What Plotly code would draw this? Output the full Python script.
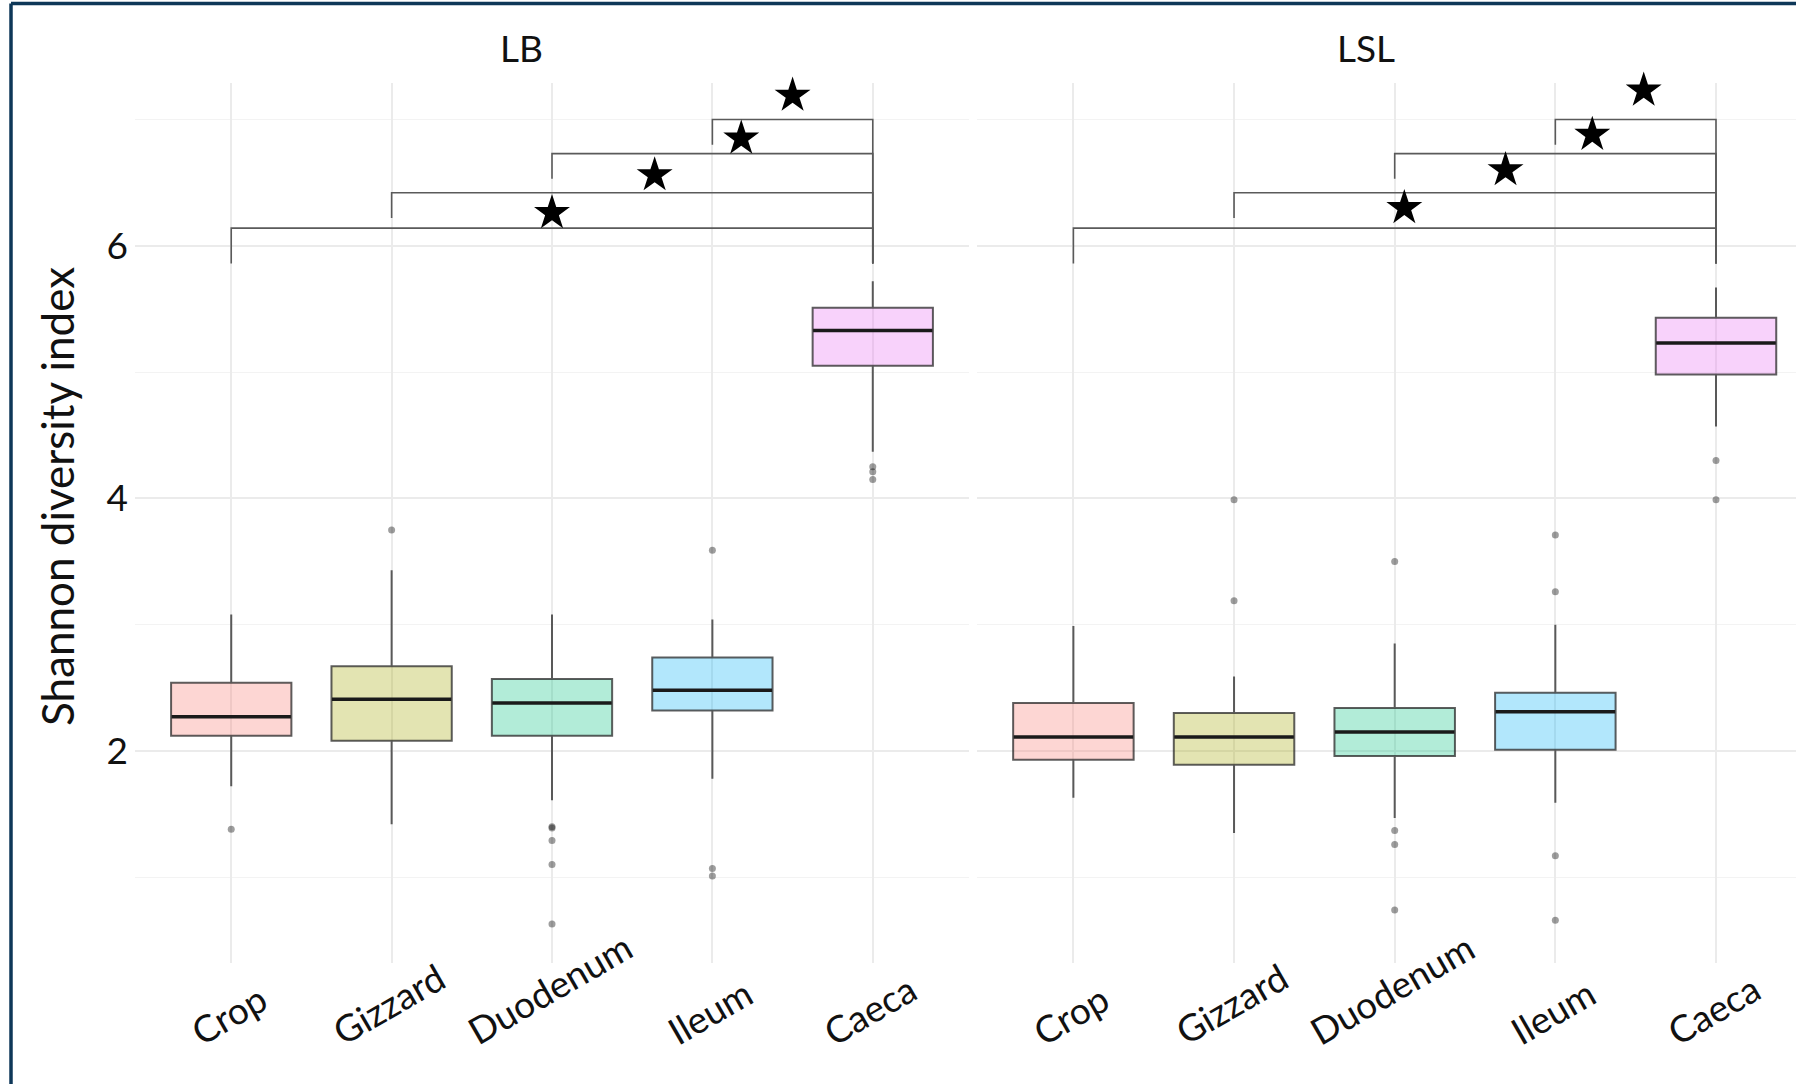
import plotly.graph_objects as go

# ---------------- data ----------------
categories = ["Crop", "Gizzard", "Duodenum", "Ileum", "Caeca"]
panels = ["LB", "LSL"]
colors = ["#F8766D", "#A3A500", "#00BF7D", "#00B0F6", "#E76BF3"]

lb_lower = [1.72, 1.42, 1.61, 1.78, 4.37]
lb_q1 = [2.12, 2.08, 2.12, 2.32, 5.05]
lb_median = [2.27, 2.41, 2.38, 2.48, 5.33]
lb_q3 = [2.54, 2.67, 2.57, 2.74, 5.51]
lb_upper = [3.08, 3.43, 3.08, 3.04, 5.72]
lb_out_cat = [0, 1, 2, 2, 2, 2, 2, 3, 3, 3, 4, 4, 4]
lb_out_val = [1.38, 3.75, 1.40, 1.39, 1.29, 1.10, 0.63, 3.59, 1.07, 1.01, 4.25, 4.21, 4.15]

lsl_lower = [1.63, 1.35, 1.47, 1.59, 4.57]
lsl_q1 = [1.93, 1.89, 1.96, 2.01, 4.98]
lsl_median = [2.11, 2.11, 2.15, 2.31, 5.23]
lsl_q3 = [2.38, 2.30, 2.34, 2.46, 5.43]
lsl_upper = [2.99, 2.59, 2.85, 3.00, 5.67]
lsl_out_cat = [1, 1, 2, 2, 2, 2, 3, 3, 3, 3, 4, 4]
lsl_out_val = [3.99, 3.19, 3.50, 1.37, 1.26, 0.74, 3.71, 3.26, 1.17, 0.66, 4.30, 3.99]

# significance brackets (group indices, bracket height, tips)
bracket_from = [0, 1, 2, 3]
bracket_to = [4, 4, 4, 4]
bracket_y = [6.14, 6.42, 6.73, 7.00]
bracket_left_tip = [5.86, 6.22, 6.53, 6.80]
bracket_right_tip = [5.86, 5.86, 5.86, 5.86]

lb_star_x = [2.00, 2.64, 3.18, 3.50]
lb_star_y = [6.26, 6.56, 6.85, 7.19]
lsl_star_x = [2.06, 2.69, 3.23, 3.55]
lsl_star_y = [6.30, 6.60, 6.88, 7.23]

y_ticks = [2, 4, 6]
y_minor = [1, 3, 5, 7]

# ---------------- figure ----------------
W, H = 1796, 1084
FONT = "Lato"
fig = go.Figure()


def rgba(hexcol, a):
    h = hexcol.lstrip("#")
    r, g, b = int(h[0:2], 16), int(h[2:4], 16), int(h[4:6], 16)
    return f"rgba({r},{g},{b},{a})"


panel_data = [
    (lb_lower, lb_q1, lb_median, lb_q3, lb_upper, lb_out_cat, lb_out_val, lb_star_x, lb_star_y),
    (lsl_lower, lsl_q1, lsl_median, lsl_q3, lsl_upper, lsl_out_cat, lsl_out_val, lsl_star_x, lsl_star_y),
]

for p, (lo, q1, med, q3, up, oc, ov, sx, sy) in enumerate(panel_data):
    xa = "x" if p == 0 else "x2"
    ya = "y" if p == 0 else "y2"
    # outliers
    fig.add_trace(go.Scatter(
        x=oc, y=ov, mode="markers", xaxis=xa, yaxis=ya,
        marker=dict(size=7, color="rgba(0,0,0,0.38)", line=dict(width=0)),
        showlegend=False, hoverinfo="skip"))
    for i, cat in enumerate(categories):
        fig.add_trace(go.Box(
            x=[i], q1=[q1[i]], median=[med[i]], q3=[q3[i]],
            lowerfence=[lo[i]], upperfence=[up[i]],
            width=0.75, whiskerwidth=0, boxpoints=False,
            fillcolor=rgba(colors[i], 0.3),
            line=dict(color="rgba(40,40,40,0.75)", width=2),
            xaxis=xa, yaxis=ya, showlegend=False, name=cat))
        fig.add_trace(go.Scatter(
            x=[i - 0.372, i + 0.372], y=[med[i], med[i]], mode="lines",
            line=dict(color="#1a1a1a", width=3.5), xaxis=xa, yaxis=ya,
            showlegend=False, hoverinfo="skip"))
    # brackets
    for k in range(len(bracket_from)):
        a, b = bracket_from[k], bracket_to[k]
        fig.add_trace(go.Scatter(
            x=[a, a, b, b],
            y=[bracket_left_tip[k], bracket_y[k], bracket_y[k], bracket_right_tip[k]],
            mode="lines", line=dict(color="#5a5a5a", width=1.6),
            xaxis=xa, yaxis=ya, showlegend=False, hoverinfo="skip"))
    fig.add_trace(go.Scatter(
        x=sx, y=sy, mode="markers", xaxis=xa, yaxis=ya, cliponaxis=False,
        marker=dict(symbol="star", size=27, color="black", line=dict(width=0)),
        showlegend=False, hoverinfo="skip"))

# axes geometry
x1_dom = [135 / W, 969 / W]
x2_dom = [977 / W, 1.0]
y_dom = [1 - 963 / H, 1 - 83 / H]
y_rng = [0.321, 7.289]

grid_major = "#EBEBEB"
grid_minor = "#F3F3F3"

common_x = dict(showgrid=True, gridcolor=grid_major, gridwidth=1.5, zeroline=False,
                showline=False, ticks="", tickvals=list(range(5)), showticklabels=False,
                anchor="y")
fig.update_layout(
    xaxis=dict(domain=x1_dom, range=[-0.6, 4.6], **common_x),
    xaxis2=dict(domain=x2_dom, range=[-0.6, 4.498], **{**common_x, "anchor": "y2"}),
    yaxis=dict(domain=y_dom, range=y_rng, tickvals=y_ticks, showgrid=True,
               gridcolor=grid_major, gridwidth=1.5, zeroline=False, showline=False,
               ticks="", ticklabelstandoff=6,
               tickfont=dict(family=FONT, size=37, color="#111"),
               minor=dict(tickvals=y_minor, showgrid=True, gridcolor=grid_minor, gridwidth=1.2),
               anchor="x"),
    yaxis2=dict(domain=y_dom, range=y_rng, tickvals=y_ticks, showgrid=True,
                gridcolor=grid_major, gridwidth=1.5, zeroline=False, showline=False,
                ticks="", showticklabels=False,
                minor=dict(tickvals=y_minor, showgrid=True, gridcolor=grid_minor, gridwidth=1.2),
                anchor="x2", matches="y"),
    width=W, height=H,
    margin=dict(l=0, r=0, t=0, b=0),
    paper_bgcolor="white", plot_bgcolor="white",
    showlegend=False,
)

annotations = []
# facet strip titles
strip_x = [521 / W, 1366 / W]
for p, name in enumerate(panels):
    annotations.append(dict(text=name, x=strip_x[p], y=1 - 48 / H, xref="paper", yref="paper",
                            xanchor="center", yanchor="middle", showarrow=False,
                            font=dict(family=FONT, size=37, color="#111")))
# rotated category labels
for p in range(2):
    xr = "x" if p == 0 else "x2"
    for i, cat in enumerate(categories):
        annotations.append(dict(text=cat, x=i, y=1 - 1056 / H, xref=xr, yref="paper",
                                xanchor="center", yanchor="bottom", textangle=-30, xshift=-3,
                                showarrow=False, font=dict(family=FONT, size=37, color="#111")))
# y axis title
annotations.append(dict(text="Shannon diversity index", x=57 / W, y=1 - 497 / H,
                        xref="paper", yref="paper", xanchor="center", yanchor="middle",
                        textangle=-90, showarrow=False,
                        font=dict(family=FONT, size=44, color="#111")))
fig.update_layout(annotations=annotations)

# outer frame (left and top edges visible)
fig.add_shape(type="line", xref="paper", yref="paper", x0=11 / W, x1=11 / W,
              y0=0, y1=1 - 3.5 / H, line=dict(color="#0E3758", width=3.5))
fig.add_shape(type="line", xref="paper", yref="paper", x0=11 / W, x1=1,
              y0=1 - 3.5 / H, y1=1 - 3.5 / H, line=dict(color="#0E3758", width=3.5))

fig.write_html("out.html", config={"displayModeBar": False},
               post_script="document.body.style.margin='0px';document.body.style.overflow='hidden';")
